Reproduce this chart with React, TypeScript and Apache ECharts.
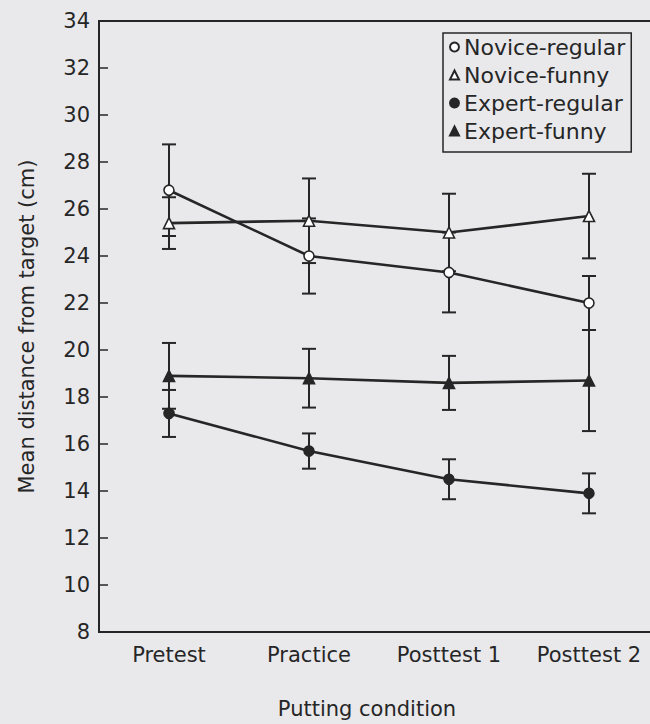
import React, { useEffect, useRef } from "react";
import * as echarts from "echarts";

const categories = ["Pretest", "Practice", "Posttest 1", "Posttest 2"];
const yTicks = { min: 8, max: 34, interval: 2 };

const seriesNames = ["Novice-regular", "Novice-funny", "Expert-regular", "Expert-funny"];
const noviceRegular = [26.8, 24.0, 23.3, 22.0];
const noviceRegularSE = [1.95, 1.6, 1.7, 1.15];
const noviceFunny = [25.4, 25.5, 25.0, 25.7];
const noviceFunnySE = [1.1, 1.8, 1.65, 1.8];
const expertRegular = [17.3, 15.7, 14.5, 13.9];
const expertRegularSE = [1.0, 0.75, 0.85, 0.85];
const expertFunny = [18.9, 18.8, 18.6, 18.7];
const expertFunnySE = [1.4, 1.25, 1.15, 2.15];

const INK = "#262626";
const BG = "#e9e9ec";
const FONT = "DejaVu Sans";

export default function App() {
  const ref = useRef<HTMLDivElement>(null);

  useEffect(() => {
    if (!ref.current) return;
    const chart = echarts.init(ref.current, null, { renderer: "svg" });

    const means = [noviceRegular, noviceFunny, expertRegular, expertFunny];
    const ses = [noviceRegularSE, noviceFunnySE, expertRegularSE, expertFunnySE];
    const errData: number[][] = [];
    means.forEach((m, i) => {
      m.forEach((v, j) => {
        errData.push([j, v - ses[i][j], v + ses[i][j]]);
      });
    });

    const symbols = ["circle", "triangle", "circle", "triangle"];
    const fills = ["#ffffff", "#ffffff", INK, INK];
    const sizes = [10, 11, 10, 11];

    const lineSeries = seriesNames.map((name, i) => ({
      name,
      type: "line",
      data: means[i],
      symbol: symbols[i],
      symbolSize: sizes[i],
      showAllSymbol: true,
      z: 3,
      lineStyle: { color: INK, width: 2.6 },
      itemStyle: { color: fills[i], borderColor: INK, borderWidth: 1.6 },
      emphasis: { disabled: true },
    }));

    chart.setOption({
      animation: false,
      backgroundColor: BG,
      textStyle: { fontFamily: FONT, color: INK },
      grid: {
        left: 99,
        right: 11,
        top: 21,
        bottom: 91,
        show: true,
        borderColor: INK,
        borderWidth: 2,
        backgroundColor: "transparent",
      },
      legend: {
        orient: "vertical",
        left: 443,
        top: 33,
        padding: [3, 6, 10, 6],
        itemGap: 6,
        itemWidth: 9,
        itemHeight: 9,
        borderColor: INK,
        borderWidth: 1.5,
        backgroundColor: BG,
        textStyle: { fontFamily: FONT, fontSize: 22, color: INK, lineHeight: 22 },
        data: seriesNames.map((n, i) => ({ name: n, icon: symbols[i] })),
      },
      xAxis: {
        type: "category",
        data: categories,
        boundaryGap: true,
        name: "Putting condition",
        nameLocation: "middle",
        nameGap: 66,
        nameTextStyle: { fontFamily: FONT, fontSize: 21, color: INK, padding: [0, 24, 0, 0] },
        axisLine: { lineStyle: { color: INK, width: 2 } },
        axisTick: { inside: true, length: 8, interval: 0, lineStyle: { color: INK, width: 1.5 } },
        axisLabel: { fontFamily: FONT, fontSize: 21, color: INK, margin: 12, interval: 0 },
        splitLine: { show: false },
      },
      yAxis: {
        type: "value",
        min: yTicks.min,
        max: yTicks.max,
        interval: yTicks.interval,
        name: "Mean distance from target (cm)",
        nameLocation: "middle",
        nameGap: 62,
        nameTextStyle: { fontFamily: FONT, fontSize: 21, color: INK },
        axisLine: { show: true, lineStyle: { color: INK, width: 2 } },
        axisTick: { show: true, inside: true, length: 9, lineStyle: { color: INK, width: 1.5 } },
        axisLabel: { fontFamily: FONT, fontSize: 21, color: INK, margin: 9 },
        splitLine: { show: false },
      },
      series: [
        {
          name: "error bars",
          type: "custom",
          z: 1,
          silent: true,
          data: errData,
          encode: { x: 0, y: [1, 2] },
          renderItem: (_params: any, api: any) => {
            const x = api.value(0);
            const lo = api.coord([x, api.value(1)]);
            const hi = api.coord([x, api.value(2)]);
            const half = 7;
            const style = { stroke: INK, lineWidth: 2 };
            return {
              type: "group",
              children: [
                { type: "line", shape: { x1: lo[0], y1: lo[1], x2: hi[0], y2: hi[1] }, style },
                { type: "line", shape: { x1: lo[0] - half, y1: lo[1], x2: lo[0] + half, y2: lo[1] }, style },
                { type: "line", shape: { x1: hi[0] - half, y1: hi[1], x2: hi[0] + half, y2: hi[1] }, style },
              ],
            };
          },
        },
        ...lineSeries,
      ],
    });

    return () => chart.dispose();
  }, []);

  return (
    <div
      style={{
        position: "absolute",
        left: 0,
        top: 0,
        width: 650,
        height: 724,
        overflow: "hidden",
        background: BG,
      }}
    >
      <div ref={ref} style={{ width: 670, height: 724 }} />
    </div>
  );
}
